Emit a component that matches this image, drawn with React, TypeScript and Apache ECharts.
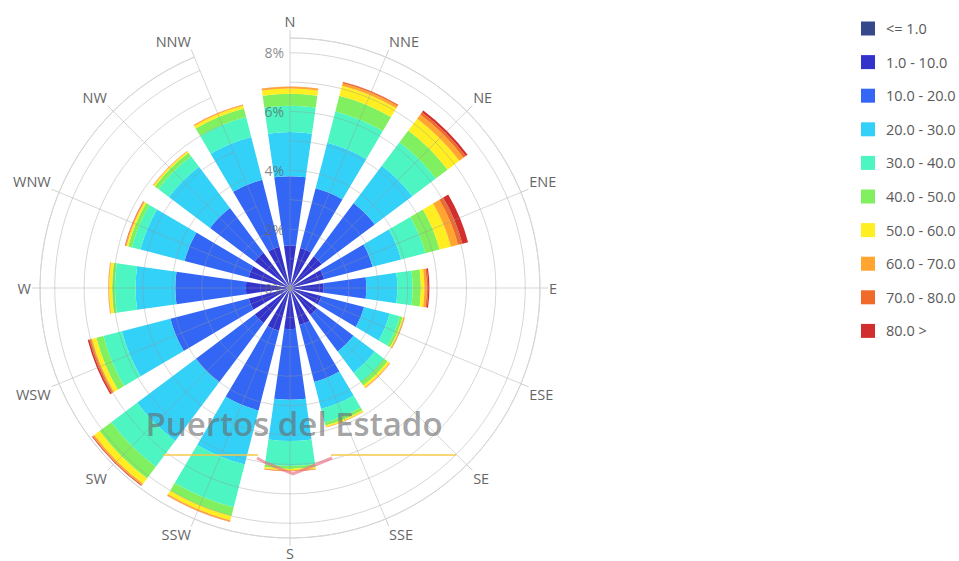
import React, { useEffect, useRef } from "react";
import * as echarts from "echarts";

const directions = ["N", "NNE", "NE", "ENE", "E", "ESE", "SE", "SSE", "S", "SSW", "SW", "WSW", "W", "WNW", "NW", "NNW"];
const speedBins = ["<= 1.0", "1.0 - 10.0", "10.0 - 20.0", "20.0 - 30.0", "30.0 - 40.0", "40.0 - 50.0", "50.0 - 60.0", "60.0 - 70.0", "70.0 - 80.0", "80.0 >"];
const binColors = ["#34488a", "#3333cc", "#3366f5", "#33d0f7", "#4cf5c2", "#80f060", "#ffee22", "#ffa530", "#f06a2a", "#d22e2e"];
const radiusTicks = [0, 2, 4, 6, 8];

// percent frequency per direction for each speed bin
const binLe1 = [0.1, 0.1, 0.1, 0.1, 0.1, 0.1, 0.1, 0.1, 0.1, 0.1, 0.1, 0.1, 0.1, 0.1, 0.1, 0.1];
const bin1to10 = [1.35, 1.3, 1.25, 1.1, 1.05, 1.0, 1.05, 1.2, 1.3, 1.4, 1.4, 1.35, 1.4, 1.35, 1.4, 1.35];
const bin10to20 = [2.35, 2.1, 2.25, 1.7, 1.45, 1.5, 1.55, 2.0, 2.4, 2.8, 2.5, 2.75, 2.4, 2.25, 1.9, 2.35];
const bin20to30 = [1.5, 1.6, 1.6, 1.0, 1.05, 0.9, 0.9, 0.95, 1.4, 1.9, 2.5, 1.7, 1.35, 1.55, 1.75, 1.5];
const bin30to40 = [0.9, 1.1, 1.0, 0.85, 0.52, 0.35, 0.4, 0.47, 0.85, 1.5, 1.1, 0.65, 0.7, 0.3, 0.45, 0.7];
const bin40to50 = [0.4, 0.55, 0.5, 0.5, 0.28, 0.1, 0.15, 0.11, 0.1, 0.3, 0.5, 0.25, 0.1, 0.13, 0.15, 0.3];
const bin50to60 = [0.18, 0.35, 0.5, 0.4, 0.12, 0.05, 0.08, 0.05, 0.05, 0.15, 0.22, 0.15, 0.1, 0.06, 0.05, 0.1];
const bin60to70 = [0.06, 0.09, 0.18, 0.25, 0.08, 0.02, 0.02, 0.02, 0.02, 0.05, 0.06, 0.05, 0.02, 0.03, 0.02, 0.03];
const bin70to80 = [0.01, 0.04, 0.09, 0.15, 0.05, 0.01, 0.01, 0, 0.01, 0.01, 0.02, 0.05, 0.01, 0.02, 0.01, 0.01];
const binGt80 = [0, 0.01, 0.08, 0.2, 0.04, 0, 0, 0, 0, 0, 0.02, 0.05, 0, 0.01, 0, 0];

const binValues = [binLe1, bin1to10, bin10to20, bin20to30, bin30to40, bin40to50, bin50to60, bin60to70, bin70to80, binGt80];

const FONT = "'Open Sans', 'Noto Sans', sans-serif";

export default function App() {
  const ref = useRef<HTMLDivElement>(null);

  useEffect(() => {
    if (!ref.current) return;
    const chart = echarts.init(ref.current, null, { renderer: "svg" });
    const gridColor = "rgba(150,150,150,0.38)";
    chart.setOption({
      animation: false,
      backgroundColor: "#ffffff",
      textStyle: { fontFamily: FONT },
      polar: { center: [290, 288], radius: 250 },
      angleAxis: {
        type: "category",
        data: directions.map((d) => (d === "S" ? { value: d, textStyle: { lineHeight: 12 } } : d)),
        boundaryGap: false,
        startAngle: 90,
        clockwise: true,
        z: 10,
        axisLine: { show: true, lineStyle: { color: "#d6d6d6", width: 1 } },
        axisTick: { show: true, interval: 0, length: 8, lineStyle: { color: "#d0d0d0" } },
        axisLabel: { interval: 0, margin: 9, color: "#666666", fontSize: 14.5, fontFamily: FONT },
        splitLine: { show: true, interval: 0, lineStyle: { color: gridColor, width: 1 } },
      },
      radiusAxis: {
        type: "value",
        min: 0,
        max: 8.5,
        interval: 1,
        angle: 90,
        z: 10,
        axisLine: { show: false },
        axisTick: { show: false },
        axisLabel: {
          color: "rgba(100,100,100,0.75)",
          fontSize: 14,
          fontFamily: FONT,
          margin: 6,
          formatter: (v: number) => (radiusTicks.indexOf(v) >= 0 ? v + "%" : ""),
        },
        splitLine: { show: true, lineStyle: { color: gridColor, width: 1 } },
      },
      legend: {
        orient: "vertical",
        left: 861,
        top: 21,
        padding: 0,
        itemWidth: 14,
        itemHeight: 14,
        itemGap: 18.6,
        icon: "rect",
        data: speedBins,
        textStyle: { color: "#5a5a5a", fontSize: 14.5, fontFamily: FONT, lineHeight: 14, padding: [0, 0, 0, 6] },
      },
      series: speedBins.map((name, i) => ({
        name,
        type: "bar",
        coordinateSystem: "polar",
        stack: "rose",
        barCategoryGap: "28%",
        data: binValues[i],
        itemStyle: { color: binColors[i] },
        emphasis: { disabled: true },
      })),
      graphic: [
        {
          type: "line",
          z: 100,
          shape: { x1: 163, y1: 455, x2: 258, y2: 455 },
          style: { stroke: "#f7c948", lineWidth: 1.5 },
        },
        {
          type: "line",
          z: 100,
          shape: { x1: 331, y1: 455, x2: 456, y2: 455 },
          style: { stroke: "#f7c948", lineWidth: 1.5 },
        },
        {
          type: "polyline",
          z: 100,
          shape: { points: [[257, 458], [266, 463], [293, 474], [320, 463], [332, 458]] },
          style: { stroke: "rgba(235,110,130,0.65)", lineWidth: 3, fill: null },
        },
        {
          type: "text",
          z: 101,
          x: 294,
          y: 423,
          style: {
            text: "Puertos del Estado",
            fill: "rgba(105,105,105,0.62)",
            font: "600 33px 'Open Sans', 'Noto Sans', sans-serif",
            align: "center",
            verticalAlign: "middle",
          },
        },
      ],
    });
    return () => chart.dispose();
  }, []);

  return <div ref={ref} style={{ position: "absolute", left: 0, top: 0, width: 959, height: 561 }} />;
}
